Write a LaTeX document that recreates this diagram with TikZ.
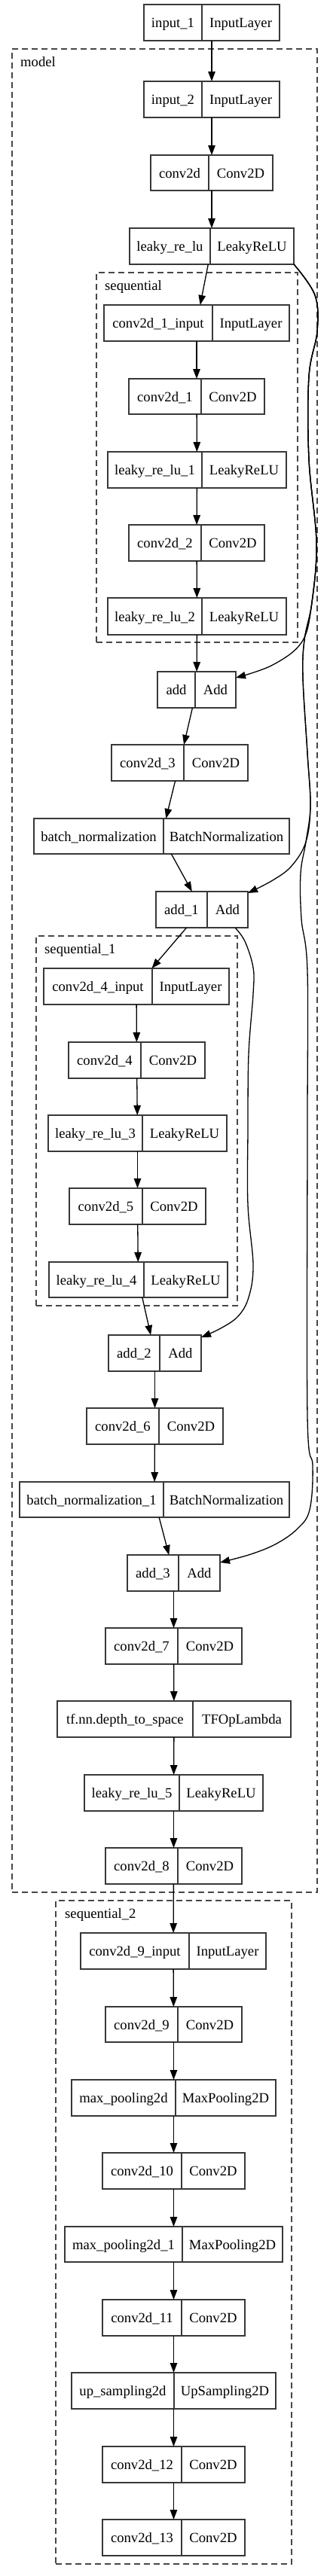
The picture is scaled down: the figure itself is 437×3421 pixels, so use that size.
\documentclass[tikz,border=0pt]{standalone}
\usepackage{fontspec}
\setmainfont{Liberation Serif}
\usetikzlibrary{arrows.meta,calc}
\tikzset{
 cellbox/.style={draw=black!78, line width=1.3pt, rectangle, inner sep=0pt, outer sep=0pt},
 celltext/.style={inner sep=0pt, text height=13pt, text depth=0pt, font=\fontsize{18.67}{22}\selectfont},
 cellline/.style={draw=black!78, line width=1.3pt},
 cluster/.style={draw=black!72, dash pattern=on 8pt off 5pt, line width=1.3pt, rectangle, inner sep=0pt, outer sep=0pt},
 clabel/.style={anchor=base west, inner sep=0pt, font=\fontsize{18.67}{22}\selectfont},
 arr/.style={-{Triangle[length=13pt,width=9.5pt]}, line width=1.3pt, draw=black},
}
\newcommand{\kerasrec}[8]{%
 \node[cellbox, minimum width={#4-#2}, minimum height={#6-#5}] (#1) at ({(#2+#4)/2},{(#5+#6)/2}) {};
 \node[celltext] (#1-l) at ({(#2+#3)/2},{(#5+#6)/2}) {#7};
 \node[celltext] (#1-r) at ({(#3+#4)/2},{(#5+#6)/2}) {#8};
 \draw[cellline] (#3,#5) -- (#3,#6);
}
\begin{document}
\begin{tikzpicture}[x=1pt,y=-1pt]
\fill[white] (0,0) rectangle (437,3421);
\useasboundingbox (0,0) rectangle (437,3421);

% clusters
\node[cluster, minimum width=405, minimum height=2448] (model) at (218.5,1289) {};
\node[cluster, minimum width=267, minimum height=491] (seq) at (261.5,607.5) {};
\node[cluster, minimum width=267, minimum height=491] (seq1) at (181.5,1488.5) {};
\node[cluster, minimum width=313, minimum height=881] (seq2) at (230.5,2964.5) {};
\node[clabel] (model-label) at (27,88) {model};
\node[clabel] (seq-label) at (139,385) {sequential};
\node[clabel] (seq1-label) at (59,1266) {sequential\_1};
\node[clabel] (seq2-label) at (86,2547) {sequential\_2};

% records
\kerasrec{in1}{191}{268}{371}{6}{54}{input\_1}{InputLayer}
\kerasrec{in2}{191}{268}{371}{108}{156}{input\_2}{InputLayer}
\kerasrec{c0}{200}{277}{362}{206}{253}{conv2d}{Conv2D}
\kerasrec{lk}{172}{279}{390}{303}{351}{leaky\_re\_lu}{LeakyReLU}
\kerasrec{c1i}{138}{282}{384}{405}{453}{conv2d\_1\_input}{InputLayer}
\kerasrec{c1}{171}{267}{351}{503}{550}{conv2d\_1}{Conv2D}
\kerasrec{lk1}{143}{268}{380}{600}{648}{leaky\_re\_lu\_1}{LeakyReLU}
\kerasrec{c2}{171}{267}{351}{697}{745}{conv2d\_2}{Conv2D}
\kerasrec{lk2}{143}{268}{380}{794}{843}{leaky\_re\_lu\_2}{LeakyReLU}
\kerasrec{add}{209}{259}{313}{892}{940}{add}{Add}
\kerasrec{c3}{148}{244}{329}{989}{1037}{conv2d\_3}{Conv2D}
\kerasrec{bn}{45}{217}{384}{1087}{1134}{batch\_normalization}{BatchNormalization}
\kerasrec{add1}{207}{275}{329}{1184}{1232}{add\_1}{Add}
\kerasrec{c4i}{58}{202}{304}{1286}{1334}{conv2d\_4\_input}{InputLayer}
\kerasrec{c4}{91}{187}{272}{1384}{1432}{conv2d\_4}{Conv2D}
\kerasrec{lk3}{64}{189}{301}{1481}{1529}{leaky\_re\_lu\_3}{LeakyReLU}
\kerasrec{c5}{92}{189}{273}{1578}{1626}{conv2d\_5}{Conv2D}
\kerasrec{lk4}{65}{191}{302}{1676}{1723}{leaky\_re\_lu\_4}{LeakyReLU}
\kerasrec{add2}{144}{212}{267}{1773}{1821}{add\_2}{Add}
\kerasrec{c6}{115}{211}{296}{1870}{1918}{conv2d\_6}{Conv2D}
\kerasrec{bn1}{26}{217}{384}{1968}{2015}{batch\_normalization\_1}{BatchNormalization}
\kerasrec{add3}{169}{237}{292}{2065}{2113}{add\_3}{Add}
\kerasrec{c7}{140}{236}{321}{2162}{2210}{conv2d\_7}{Conv2D}
\kerasrec{tf}{76}{256}{386}{2259}{2307}{tf.nn.depth\_to\_space}{TFOpLambda}
\kerasrec{lk5}{112}{238}{349}{2357}{2405}{leaky\_re\_lu\_5}{LeakyReLU}
\kerasrec{c8}{140}{236}{321}{2454}{2502}{conv2d\_8}{Conv2D}
\kerasrec{c9i}{107}{251}{353}{2567}{2615}{conv2d\_9\_input}{InputLayer}
\kerasrec{c9}{140}{236}{321}{2665}{2712}{conv2d\_9}{Conv2D}
\kerasrec{mp}{95}{233}{366}{2762}{2810}{max\_pooling2d}{MaxPooling2D}
\kerasrec{c10}{136}{241}{325}{2859}{2907}{conv2d\_10}{Conv2D}
\kerasrec{mp1}{86}{242}{375}{2957}{3004}{max\_pooling2d\_1}{MaxPooling2D}
\kerasrec{c11}{136}{241}{325}{3054}{3102}{conv2d\_11}{Conv2D}
\kerasrec{up}{95}{231}{366}{3151}{3199}{up\_sampling2d}{UpSampling2D}
\kerasrec{c12}{136}{241}{325}{3249}{3297}{conv2d\_12}{Conv2D}
\kerasrec{c13}{136}{241}{325}{3346}{3394}{conv2d\_13}{Conv2D}

% straight edges
\foreach \a/\b in {in1/in2, in2/c0, c0/lk, lk/c1i, c1i/c1, c1/lk1, lk1/c2, c2/lk2, lk2/add,
  add/c3, c3/bn, bn/add1, add1/c4i, c4i/c4, c4/lk3, lk3/c5, c5/lk4, lk4/add2, add2/c6, c6/bn1,
  bn1/add3, add3/c7, c7/tf, tf/lk5, lk5/c8, c8/c9i, c9i/c9, c9/mp, mp/c10, c10/mp1, mp1/c11,
  c11/up, up/c12, c12/c13}
  \draw[arr] (\a) -- (\b);

% skip connections
\draw[arr] plot[smooth, tension=0.6] coordinates {(lk.south east) (418,392) (421,440) (410,500) (410,610) (420,720) (414,800) (401,852) (362,883) ($(add.north east)+(0,8)$)};
\draw[arr] plot[smooth, tension=0.6] coordinates {(lk.south east) (418,392) (421,440) (410,500) (410,610) (420,720) (414,800) (404,850) (402,900) (408,1000) (412,1070) (406,1118) (387,1150) (362,1169) ($(add1.north east)+(0,2)$)};
\draw[arr] plot[smooth, tension=0.6] coordinates {(lk.south east) (418,392) (421,440) (410,500) (410,610) (420,720) (414,800) (404,850) (402,900) (408,1000) (412,1070) (406,1118) (399,1160) (400,1220) (408,1290) (408,1500) (408,1880) (415,1947) (411,2005) (395,2030) (367,2050) (333,2064) ($(add3.north east)+(0,10)$)};
\draw[arr] plot[smooth, tension=0.6] coordinates {($(add1.south east)+(-17,0)$) (325,1250) (336,1285) (336,1320) (330,1400) (329,1500) (329,1600) (336,1680) (330,1723) (316,1748) (293,1764) ($(add2.north east)+(0,3)$)};
\end{tikzpicture}
\end{document}
